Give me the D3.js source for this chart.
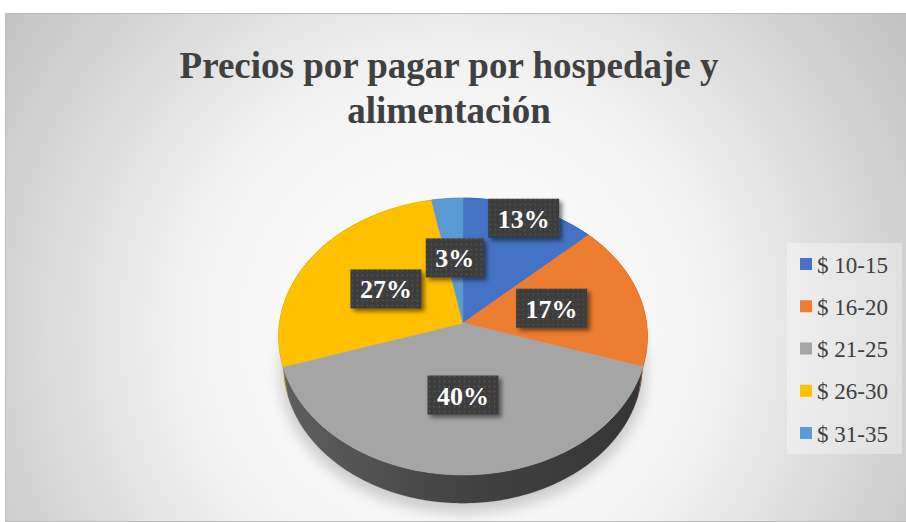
<!DOCTYPE html>
<html><head><meta charset="utf-8">
<script src="https://cdn.jsdelivr.net/npm/d3@7"></script>
<style>html,body{margin:0;padding:0;background:#fff;} svg{display:block}</style>
</head><body>
<svg id="chart" width="906" height="522"></svg>
<script>
// ---- data ----
const categories = ["$ 10-15", "$ 16-20", "$ 21-25", "$ 26-30", "$ 31-35"];
const values = [13, 17, 40, 27, 3];
const labels = ["13%", "17%", "40%", "27%", "3%"];
const colors = ["#4472C4", "#ED7D31", "#A5A5A5", "#FFC000", "#5B9BD5"];
const titleLines = ["Precios por pagar por hospedaje y", "alimentación"];

// ---- layout ----
const W = 906, H = 522;
const serif = "'Liberation Serif','Times New Roman',Times,serif";
const svg = d3.select("#chart");
const defs = svg.append("defs");

// background gradient
const rg = defs.append("radialGradient").attr("id", "bg")
  .attr("gradientUnits", "userSpaceOnUse").attr("cx", 450).attr("cy", 330).attr("r", 560);
rg.append("stop").attr("offset", 0).attr("stop-color", "#ffffff");
rg.append("stop").attr("offset", 0.45).attr("stop-color", "#f4f4f4");
rg.append("stop").attr("offset", 1).attr("stop-color", "#c0c0c0");

svg.append("rect").attr("width", W).attr("height", H).attr("fill", "#fff");
svg.append("rect").attr("x", 5.5).attr("y", 13.5).attr("width", W).attr("height", 508)
  .attr("fill", "url(#bg)").attr("stroke", "#bdbdbd");

// title
svg.append("text").attr("text-anchor", "middle").attr("font-family", serif)
  .attr("font-weight", "bold").attr("font-size", 37).attr("fill", "#404040")
  .selectAll("tspan").data(titleLines).join("tspan")
  .attr("x", 449).attr("y", (d, i) => 78 + i * 45).text(d => d);

// ---- 3D projection of the pie ----
const cx = 463, cy = 323;
const D = 6.8, F = 1248, cosE = 0.664, sinE = 0.747, depth = 0.25;
function proj(a, r, y) {
  const X = r * Math.sin(a), Z = r * Math.cos(a);
  const xc = X, yc = y * cosE + Z * sinE, zc = D + Z * cosE - y * sinE;
  return [cx + F * xc / zc, cy - F * yc / zc];
}
const arcs = d3.pie().sort(null).value(d => d)(values);
const line = d3.line();
function arcAngles(a0, a1) {
  const n = Math.max(2, Math.ceil((a1 - a0) / (Math.PI / 180)));
  return d3.range(n + 1).map(i => a0 + (a1 - a0) * i / n);
}

// filters
const blur = defs.append("filter").attr("id", "blur").attr("x", "-30%").attr("y", "-30%").attr("width", "160%").attr("height", "160%");
blur.append("feGaussianBlur").attr("stdDeviation", 7);
const ds = defs.append("filter").attr("id", "ds").attr("x", "-30%").attr("y", "-30%").attr("width", "160%").attr("height", "160%");
ds.append("feDropShadow").attr("dx", 3).attr("dy", 3).attr("stdDeviation", 2).attr("flood-color", "#000").attr("flood-opacity", 0.5);

// pie shadow
const shadowPts = arcAngles(0, 2 * Math.PI).map(a => proj(a, 1.02, -depth - 0.02));
svg.append("path").attr("d", line(shadowPts) + "Z").attr("fill", "#000").attr("opacity", 0.18)
  .attr("filter", "url(#blur)").attr("transform", "translate(0,4)");

// side shading gradient
const sg = defs.append("linearGradient").attr("id", "sideShade")
  .attr("gradientUnits", "userSpaceOnUse").attr("x1", cx - 185).attr("x2", cx + 185).attr("y1", 0).attr("y2", 0);
sg.append("stop").attr("offset", 0).attr("stop-color", "#000").attr("stop-opacity", 0.42);
sg.append("stop").attr("offset", 0.5).attr("stop-color", "#000").attr("stop-opacity", 0.6);
sg.append("stop").attr("offset", 1).attr("stop-color", "#000").attr("stop-opacity", 0.68);

const gSide = svg.append("g");
const sideOrder = arcs.map((d, i) => i).sort((i, j) => {
  const m = k => -Math.cos((arcs[k].startAngle + arcs[k].endAngle) / 2);
  return m(i) - m(j);
});
sideOrder.forEach(i => {
  const d = arcs[i];
  const angs = arcAngles(d.startAngle, d.endAngle);
  const pts = angs.map(a => proj(a, 1, 0)).concat(angs.slice().reverse().map(a => proj(a, 1, -depth)));
  const p = line(pts) + "Z";
  gSide.append("path").attr("d", p).attr("fill", colors[i]).attr("stroke", colors[i]).attr("stroke-width", 0.5);
  gSide.append("path").attr("d", p).attr("fill", "url(#sideShade)");
});

// top faces
const gTop = svg.append("g");
arcs.forEach((d, i) => {
  const pts = [proj(0, 0, 0)].concat(arcAngles(d.startAngle, d.endAngle).map(a => proj(a, 1, 0)));
  gTop.append("path").attr("d", line(pts) + "Z").attr("fill", colors[i])
    .attr("stroke", colors[i]).attr("stroke-width", 0.6);
});

// ---- data labels ----
const pat = defs.append("pattern").attr("id", "dots").attr("patternUnits", "userSpaceOnUse")
  .attr("width", 5).attr("height", 5);
pat.append("rect").attr("width", 5).attr("height", 5).attr("fill", "#3c3c3c");
pat.append("circle").attr("cx", 1.5).attr("cy", 1.5).attr("r", 0.9).attr("fill", "#555555");

const gLab = svg.append("g");
const placed = [];
const order = arcs.map((d, i) => i).reverse();
order.forEach(i => {
  const d = arcs[i];
  const mid = (d.startAngle + d.endAngle) / 2;
  const g = gLab.append("g");
  const t = g.append("text").attr("font-family", serif).attr("font-weight", "bold")
    .attr("font-size", 26).attr("fill", "#fff").attr("text-anchor", "middle")
    .attr("dominant-baseline", "central").text(labels[i]);
  const tw = t.node().getComputedTextLength();
  const bw = tw + 19, bh = 39;
  let r = 0.5, p = proj(mid, r, 0);
  const overlaps = q => placed.some(b =>
    Math.abs(q[0] - b.x) < (bw + b.w) / 2 + 4 && Math.abs(q[1] - b.y) < (bh + b.h) / 2 + 4);
  while (overlaps(p) && r < 1.3) { r += 0.01; p = proj(mid, r, 0); }
  placed.push({x: p[0], y: p[1], w: bw, h: bh});
  g.attr("transform", `translate(${p[0]},${p[1]})`);
  g.insert("rect", "text").attr("x", -bw / 2).attr("y", -bh / 2).attr("width", bw).attr("height", bh)
    .attr("fill", "url(#dots)").attr("filter", "url(#ds)");
  t.attr("y", 1);
});

// ---- legend ----
svg.append("rect").attr("x", 787).attr("y", 243).attr("width", 115).attr("height", 211)
  .attr("fill", "#ffffff").attr("opacity", 0.35);
const ly = d3.scalePoint().domain(categories).range([264, 433]);
const lg = svg.append("g").selectAll("g").data(categories).join("g")
  .attr("transform", d => `translate(800,${ly(d)})`);
lg.append("rect").attr("x", 0).attr("y", -6).attr("width", 12).attr("height", 12)
  .attr("fill", (d, i) => colors[i]);
lg.append("text").attr("x", 17).attr("y", 1).attr("dominant-baseline", "central")
  .attr("font-family", serif).attr("font-size", 23).attr("fill", "#404040").text(d => d);
</script>
</body></html>
